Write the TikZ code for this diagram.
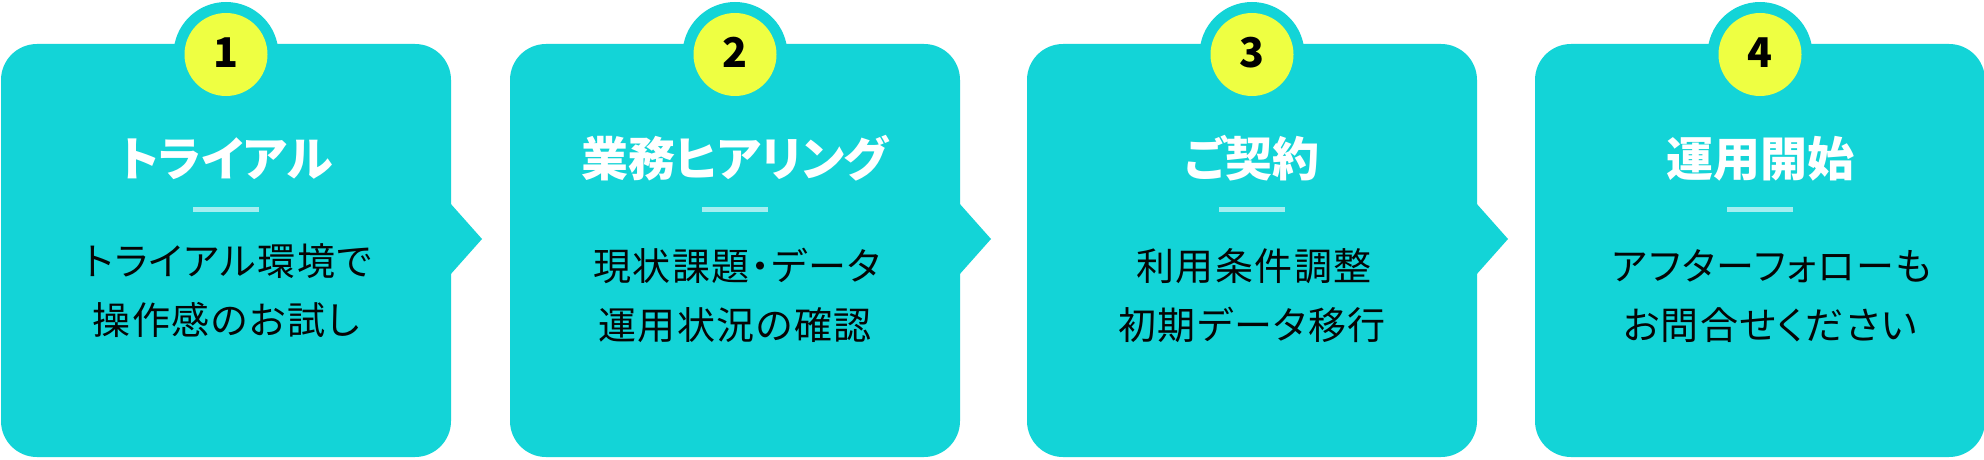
\documentclass[tikz,border=0pt]{standalone}
\usepackage{fontspec}
\newfontfamily\jpfont[RawFeature=+palt]{Noto Sans CJK JP}
\newfontfamily\jpbody[RawFeature=+palt, LetterSpace=4]{Noto Sans CJK JP}
\definecolor{cardc}{HTML}{13D4D7}
\definecolor{badgec}{HTML}{EEFF42}
\definecolor{sepc}{HTML}{A6EEF0}
\definecolor{textc}{HTML}{050505}
\begin{document}
\begin{tikzpicture}[x=1pt,y=-1pt]
\tikzset{
  cardbox/.style={fill=cardc, rounded corners=36pt},
  cardnotch/.style={fill=cardc},
  badgering/.style={fill=cardc},
  badgenum/.style={circle, fill=badgec, minimum size=83pt, inner sep=0pt},
  numtext/.style={font=\jpfont\bfseries\fontsize{41}{41}\selectfont, text=black, inner sep=0pt, anchor=base},
  titletext/.style={font=\jpfont\bfseries\fontsize{47}{47}\selectfont, text=white, inner sep=0pt, anchor=base},
  bodytext/.style={font=\jpbody\fontsize{38}{38}\selectfont, text=textc, inner sep=0pt, anchor=base},
  sepline/.style={draw=sepc, line width=5pt},
}
\fill[white] (0,0) rectangle (1984,460);
\useasboundingbox (0,0) rectangle (1984,460);
\foreach \i/\cx/\dy/\dx/\ttl/\la/\lb in {
  1/226/-5/0/トライアル/トライアル環境で/操作感のお試し,
  2/735/0/0/業務ヒアリング/現状課題・データ/運用状況の確認,
  3/1252/0/0/ご契約/利用条件調整/初期データ移行,
  4/1760/0/10/運用開始/アフターフォローも/お問合せください}{
  \fill[cardbox] (\cx-225,44) rectangle (\cx+225,457);
  \ifnum\i<4
    \fill[cardnotch] (\cx+224,203) -- (\cx+256,239) -- (\cx+224,275) -- cycle;
  \fi
  \fill[badgering] (\cx,54.5) circle (52.5pt);
  \node[badgenum] (badge\i) at (\cx,54.5) {};
  \node[numtext] (num\i) at (\cx,68) {\i};
  \node[titletext] (title\i) at (\cx,176) {\ttl};
  \coordinate (sepl\i) at (\cx-33,209);
  \coordinate (sepr\i) at (\cx+33,209);
  \draw[sepline] (sepl\i) -- (sepr\i);
  \node[bodytext] (bodya\i) at (\cx+2+\dx,280+\dy) {\la};
  \node[bodytext] (bodyb\i) at (\cx+\dx,339+\dy) {\lb};
}
\end{tikzpicture}
\end{document}
